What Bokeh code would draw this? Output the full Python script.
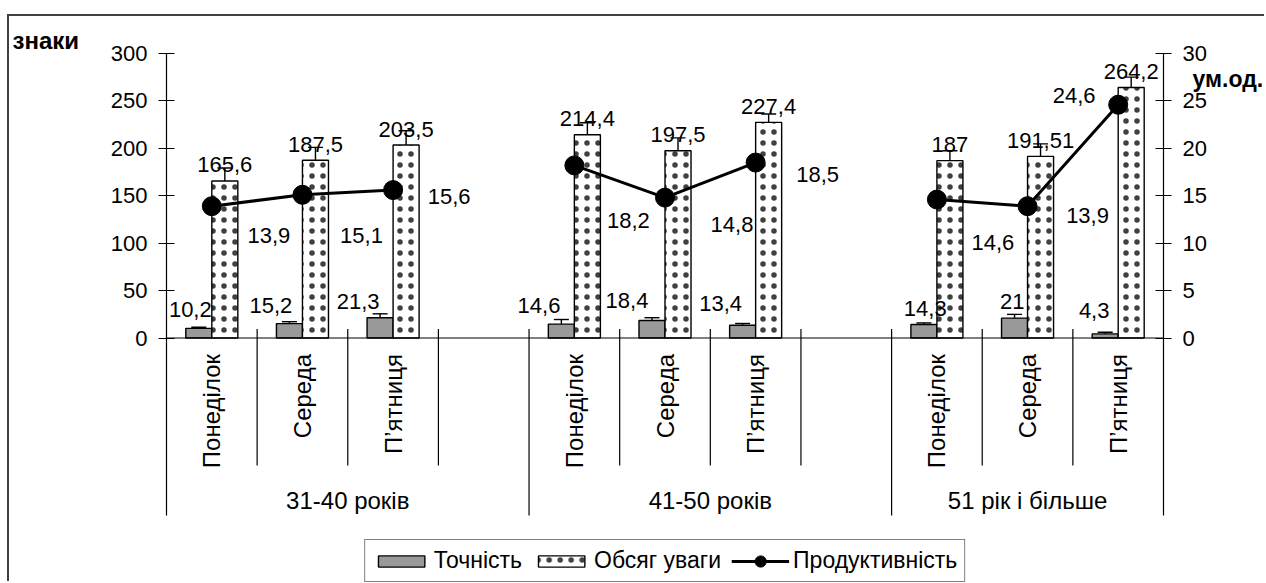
import math
from bokeh.plotting import figure
from bokeh.models import (ColumnDataSource, FactorRange, Range1d, LinearAxis, FixedTicker,
                          Whisker, TeeHead, Legend, LegendItem, Span, Title)
from bokeh.transform import dodge
from bokeh.core.properties import value
from bokeh.embed import file_html
from bokeh.resources import INLINE

# ---------------- data ----------------
groups = ["31-40 років", "41-50 років", "51 рік і більше"]
days = ["Понеділок", "Середа", "П’ятниця"]

tochnist = [10.2, 15.2, 21.3, 14.6, 18.4, 13.4, 14.3, 21, 4.3]
tochnist_err = [1.2, 2.0, 4.2, 4.9, 3.0, 1.9, 1.6, 3.9, 1.8]
obsyag = [165.6, 187.5, 203.5, 214.4, 197.5, 227.4, 187, 191.51, 264.2]
obsyag_err = [13.7, 13.5, 15.0, 12.6, 13.5, 8.8, 10.5, 13.2, 10.9]
produkt = [13.9, 15.1, 15.6, 18.2, 14.8, 18.5, 14.6, 13.9, 24.6]

left_ticks = [0, 50, 100, 150, 200, 250, 300]
right_ticks = [0, 5, 10, 15, 20, 25, 30]

# label placement offsets (screen pixels, +y = down)
tochnist_lbl_dx = [-8.5, -18.6, -22, -22.4, -25, -22, 1.3, -2.4, -11]
tochnist_lbl_dy = [-18.8, -18, -16.3, -18.6, -20, -21.5, -15.6, -17, -23.4]
produkt_lbl_dx = [57, 59, 56, 54, 67, 62, 56, 60, -44]
produkt_lbl_dy = [29.5, 40.8, 6.6, 55, 27, 12, 42.8, 9.5, -9.7]

# ---------------- layout / style ----------------
FONT = "Liberation Sans"
FS = "22px"
CAT_FS = "24px"
PX_VAL = 284.5      # pixels of the 0..300 value band
PX_BAND = 177.5     # pixels of the category label band under zero
PX_BELOW = 245.5    # pixels from zero down to the bottom of the picture
BAR_W = 0.287
OFF = BAR_W / 2
EMPTY = " "
UNIT_LABEL_POS = 27.3   # right-axis value where the "ум.од." title sits

factors = []
for gi, g in enumerate(groups):
    for d in days:
        factors.append((g, d))
    if gi < len(groups) - 1:
        factors.append((g, EMPTY))
x_cat = [(g, d) for g in groups for d in days]


def fmt(v):
    return f"{v:g}".replace(".", ",")


src = ColumnDataSource(dict(
    x=x_cat,
    t=tochnist, t_up=[v + e for v, e in zip(tochnist, tochnist_err)],
    t_lo=[v - e for v, e in zip(tochnist, tochnist_err)],
    t_lbl=[fmt(v) for v in tochnist], t_dx=tochnist_lbl_dx, t_dy=tochnist_lbl_dy,
    o=obsyag, o_up=[v + e for v, e in zip(obsyag, obsyag_err)],
    o_lo=[v - e for v, e in zip(obsyag, obsyag_err)],
    o_lbl=[fmt(v) for v in obsyag],
    pr=produkt, p_lbl=[fmt(v) for v in produkt], p_dx=produkt_lbl_dx, p_dy=produkt_lbl_dy,
))

LT, RT = left_ticks[-1], right_ticks[-1]
p = figure(width=1257, height=567,
           x_range=FactorRange(factors=factors, factor_padding=0, group_padding=0,
                               subgroup_padding=0, range_padding=0),
           y_range=Range1d(-LT * PX_BELOW / PX_VAL, LT),
           x_axis_location=None, y_axis_location=None,
           output_backend="svg", toolbar_location=None,
           min_border_left=157, min_border_right=103, min_border_top=37, min_border_bottom=0)
p.extra_y_ranges = {"right": Range1d(-RT * PX_BELOW / PX_VAL, RT)}
p.outline_line_color = None
p.grid.visible = False
p.background_fill_color = "white"
p.border_fill_color = "white"
p.margin = (14, 0, 0, 7)
p.styles = {"border-left": "2px solid #404040", "border-top": "2px solid #404040"}

axis_kw = dict(major_tick_in=8, major_tick_out=8, minor_tick_in=0, minor_tick_out=0,
               major_label_standoff=11, axis_line_color="black", axis_line_width=1.2,
               major_tick_line_color="black", major_tick_line_width=1.2,
               major_label_text_font=FONT, major_label_text_font_size=FS,
               major_label_text_color="black")
ax_l = LinearAxis(ticker=FixedTicker(ticks=left_ticks),
                  bounds=(-LT * PX_BAND / PX_VAL, LT), **axis_kw)
p.add_layout(ax_l, "left")
ax_r = LinearAxis(y_range_name="right", ticker=FixedTicker(ticks=right_ticks),
                  bounds=(-RT * PX_BAND / PX_VAL, RT), **axis_kw)
p.add_layout(ax_r, "right")
# unit title of the right axis
ax_u = LinearAxis(y_range_name="right", ticker=FixedTicker(ticks=[UNIT_LABEL_POS]),
                  major_label_overrides={UNIT_LABEL_POS: "ум.од."},
                  axis_line_color=None, major_tick_line_color=None,
                  major_tick_in=0, major_tick_out=0, minor_tick_in=0, minor_tick_out=0,
                  major_label_standoff=-17, major_label_text_font=FONT,
                  major_label_text_font_size="23px", major_label_text_font_style="bold",
                  major_label_text_color="black")
p.add_layout(ax_u, "right")
# unit title of the left axis
p.add_layout(Title(text="знаки", align="left", offset=-154, standoff=0,
                   vertical_align="bottom", text_font=FONT, text_font_size="24px",
                   text_font_style="bold", text_color="black"), "above")

# category axis baseline + separators
p.add_layout(Span(location=0, dimension="width", line_color="black", line_width=1.2))
sep_x, sep_len = [], []
for i, f in enumerate(factors):
    if i == 0:
        continue
    first_in_group = f[0] != factors[i - 1][0]
    sep_x.append((f[0], f[1], -0.5))
    sep_len.append(PX_BAND if first_in_group else 127.5)
sep_src = ColumnDataSource(dict(x=sep_x, y=[0] * len(sep_x), l=sep_len))
p.ray(x="x", y="y", length="l", angle=-math.pi / 2, length_units="screen",
      source=sep_src, line_color="black", line_width=1.2)
p.ray(x="x", y="y", length=9, angle=math.pi / 2, length_units="screen",
      source=sep_src, line_color="black", line_width=1.2)

# day labels (rotated) and group labels
p.text(x=x_cat, y=[0] * len(x_cat), text=[d for g in groups for d in days],
       angle=math.pi / 2, text_align="right", text_baseline="middle", y_offset=16,
       text_font=value(FONT), text_font_size=value(CAT_FS), text_color="black")
p.text(x=groups, y=[0] * len(groups), text=groups, text_align="center",
       text_baseline="alphabetic", y_offset=162.5,
       text_font=value(FONT), text_font_size=value(CAT_FS), text_color="black")

# bars
r_t = p.vbar(x=dodge("x", -OFF, range=p.x_range), top="t", width=BAR_W, source=src,
             fill_color="#999999", line_color="black", line_width=1.4)
r_o = p.vbar(x=dodge("x", OFF, range=p.x_range), top="o", width=BAR_W, source=src,
             fill_color="white", line_color="black", line_width=1.4,
             hatch_pattern="dot", hatch_color="black", hatch_scale=11, hatch_weight=0.1,
             hatch_alpha=0.75)

for key, off in (("t", -OFF), ("o", OFF)):
    p.add_layout(Whisker(source=src, base=dodge("x", off, range=p.x_range),
                         upper=f"{key}_up", lower=f"{key}_lo", line_color="black",
                         line_width=1.4,
                         upper_head=TeeHead(size=15, line_width=1.4, line_color="black"),
                         lower_head=TeeHead(size=15, line_width=1.4, line_color="black")))

# bar value labels
p.text(x=dodge("x", OFF, range=p.x_range), y="o", text="o_lbl", source=src, y_offset=-16,
       text_align="center", text_baseline="alphabetic",
       text_font=value(FONT), text_font_size=value(FS), text_color="black")
p.text(x=dodge("x", -OFF, range=p.x_range), y="t", text="t_lbl", source=src,
       x_offset="t_dx", y_offset="t_dy", text_align="center", text_baseline="alphabetic",
       text_font=value(FONT), text_font_size=value(FS), text_color="black")

# productivity line per age group
line_r = None
for gi, g in enumerate(groups):
    xs = x_cat[gi * 3:(gi + 1) * 3]
    ys = produkt[gi * 3:(gi + 1) * 3]
    lr = p.line(x=xs, y=ys, y_range_name="right", line_color="black", line_width=3)
    if line_r is None:
        line_r = lr
dot_r = p.ellipse(x="x", y="pr", source=src, y_range_name="right", width=19, height=19,
                  width_units="screen", height_units="screen",
                  fill_color="black", line_color="black")
p.text(x="x", y="pr", text="p_lbl", source=src, y_range_name="right",
       x_offset="p_dx", y_offset="p_dy", text_align="center", text_baseline="alphabetic",
       text_font=value(FONT), text_font_size=value(FS), text_color="black")

# legend
legend = Legend(items=[LegendItem(label="Точність", renderers=[r_t]),
                       LegendItem(label="Обсяг уваги", renderers=[r_o]),
                       LegendItem(label="Продуктивність", renderers=[line_r, dot_r])],
                orientation="horizontal", location="bottom_center", glyph_width=58,
                glyph_height=14, label_text_font=FONT, label_text_font_size="23px",
                label_text_color="black", border_line_color="black", border_line_width=1,
                padding=7, spacing=10, label_standoff=4, margin=1, background_fill_alpha=1)
p.add_layout(legend)

open("out.html", "w").write(file_html(p, INLINE))
